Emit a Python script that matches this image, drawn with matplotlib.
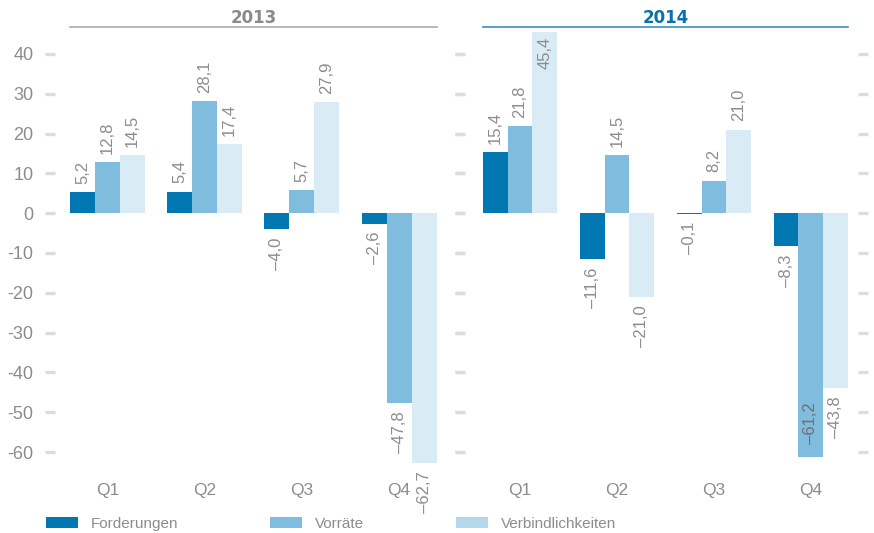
import numpy as np
import matplotlib
matplotlib.use("Agg")
import matplotlib.pyplot as plt
from matplotlib.patches import Patch
import matplotlib.transforms as mtransforms

plt.rcParams['font.family'] = ['Liberation Sans', 'DejaVu Sans']

quarters = ["Q1", "Q2", "Q3", "Q4"]
years = ["2013", "2014"]
series = ["Forderungen", "Vorräte", "Verbindlichkeiten"]

forderungen_2013 = [5.2, 5.4, -4.0, -2.6]
vorraete_2013 = [12.8, 28.1, 5.7, -47.8]
verbindl_2013 = [14.5, 17.4, 27.9, -62.7]

forderungen_2014 = [15.4, -11.6, -0.1, -8.3]
vorraete_2014 = [21.8, 14.5, 8.2, -61.2]
verbindl_2014 = [45.4, -21.0, 21.0, -43.8]

yticks = [40, 30, 20, 10, 0, -10, -20, -30, -40, -50, -60]

bar_colors = ["#0077B0", "#7FBCDD", "#D9EBF5"]
legend_colors = ["#0077B0", "#7FBCDD", "#B3D7EB"]
grey = "#8C8C8C"
tick_grey = "#DCDCDC"

data = {
    "2013": [forderungen_2013, vorraete_2013, verbindl_2013],
    "2014": [forderungen_2014, vorraete_2014, verbindl_2014],
}

W, H = 874, 533
fig = plt.figure(figsize=(W / 100, H / 100), dpi=100)

# axes boxes in pixels (left, right)
boxes = {"2013": (55, 455), "2014": (465, 858)}
xlims = {"2013": (-0.54, 3.575), "2014": (-0.567, 3.485)}
top_px, bot_px = 30, 466
title_colors = {"2013": ("#8A8A8A", "#AAAAAA"), "2014": ("#0A72A8", "#3A8DC0")}

bw = 0.257
x = np.arange(len(quarters))

for yr in years:
    l, r = boxes[yr]
    ax = fig.add_axes([l / W, 1 - bot_px / H, (r - l) / W, (bot_px - top_px) / H])
    ax.set_xlim(*xlims[yr])
    ax.set_ylim(-63.5, 46)
    for s, vals in enumerate(data[yr]):
        pos = x + (s - 1) * bw
        ax.bar(pos, vals, width=bw, color=bar_colors[s], linewidth=0)
        for px_, v in zip(pos, vals):
            lab = f"{v:.1f}".replace(".", ",").replace("-", "\u2013")
            kw = dict(textcoords="offset points", rotation=90, ha="center",
                      fontsize=12, annotation_clip=False)
            if yr == "2014" and v < -60:
                # label placed inside the bar end
                ax.annotate(lab, (px_, v), xytext=(0, 9), va="bottom",
                            color="#707070", **kw)
            elif yr == "2014" and v > 45:
                ax.annotate(lab, (px_, v), xytext=(0, -3), va="top",
                            color=grey, **kw)
            elif v >= 0:
                ax.annotate(lab, (px_, v), xytext=(0, 6), va="bottom",
                            color=grey, **kw)
            else:
                ax.annotate(lab, (px_, v), xytext=(0, -6), va="top",
                            color=grey, **kw)
    for sp in ax.spines.values():
        sp.set_visible(False)
    ax.set_yticks(yticks)
    if yr == "2013":
        ax.set_yticklabels([str(t) for t in yticks])
    else:
        ax.set_yticklabels([])
    ax.tick_params(axis="y", left=True, right=True, length=7.5, width=2.4,
                   color=tick_grey, labelcolor=grey, labelsize=13, pad=8)
    ax.set_xticks(x)
    ax.set_xticklabels(quarters)
    ax.tick_params(axis="x", length=0, labelcolor=grey, labelsize=12.5, pad=12)

    # title with underline
    trans = mtransforms.blended_transform_factory(ax.transData, ax.transAxes)
    x0 = x[0] - 1.5 * bw
    x1 = x[-1] + 1.5 * bw
    tc, lc = title_colors[yr]
    ax.plot([x0, x1], [1.007, 1.007], transform=trans, color=lc, lw=1.2, clip_on=False)
    ax.text((x0 + x1) / 2, 1.028, yr, transform=trans, ha="center", va="center",
            color=tc, fontsize=12, fontweight="bold", family="DejaVu Sans")

handles = [Patch(facecolor=c, edgecolor="none") for c in legend_colors]
fig.legend(handles, series, loc="center left", bbox_to_anchor=(46 / W, 1 - 524 / H),
           ncol=3, frameon=False, fontsize=11, labelcolor=grey,
           handlelength=2.1, handleheight=0.7, handletextpad=0.85,
           columnspacing=6.0, borderpad=0, borderaxespad=0)

fig.savefig("out.png", dpi=100)
